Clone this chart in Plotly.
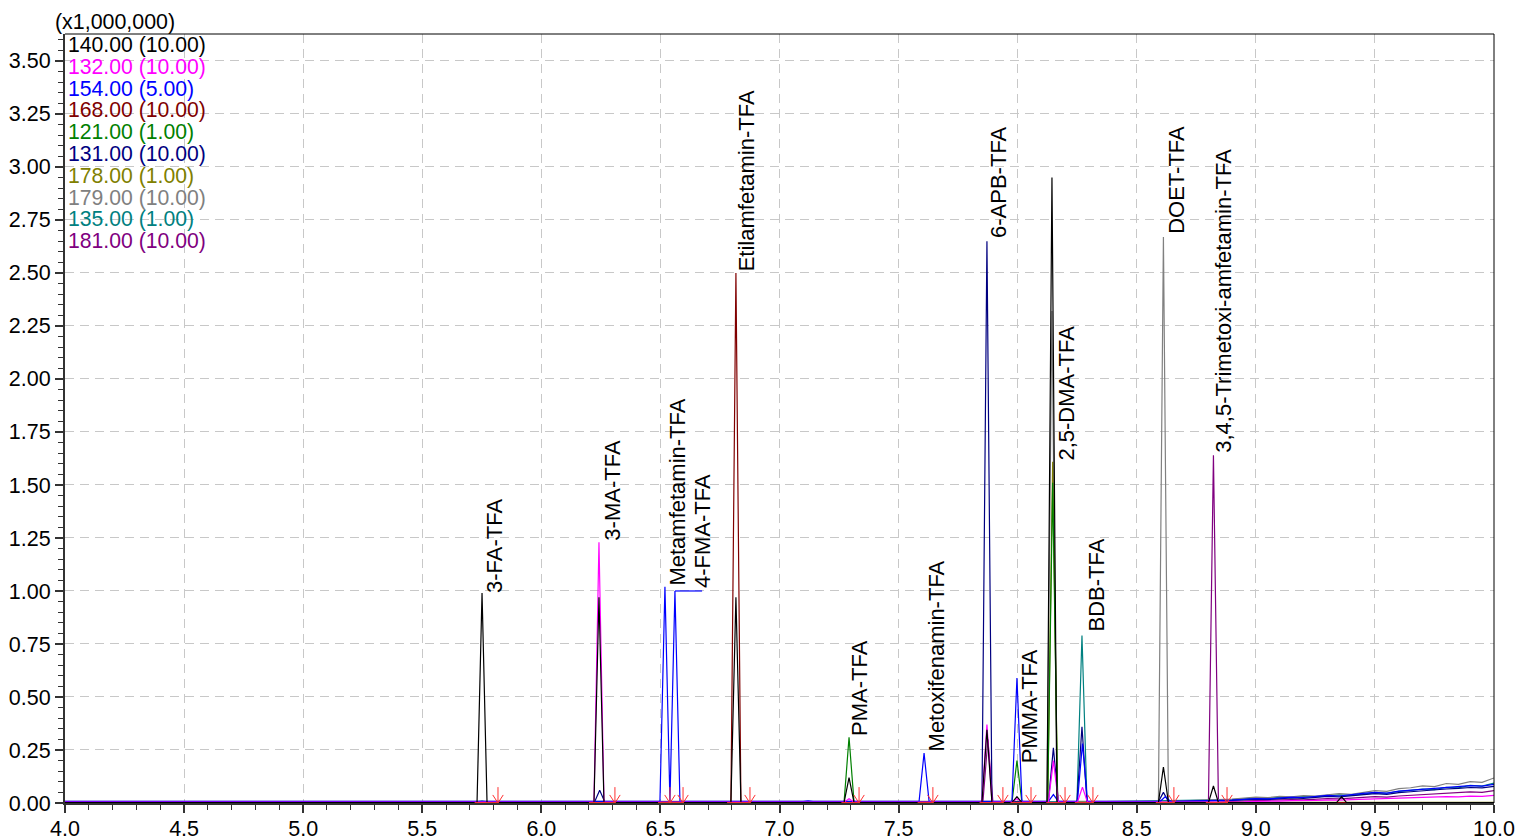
import plotly.graph_objects as go

# ---------------- data (intensity in units of 1,000,000 counts, time in min) ----------------
mz_labels = ["140.00 (10.00)", "132.00 (10.00)", "154.00 (5.00)", "168.00 (10.00)", "121.00 (1.00)",
             "131.00 (10.00)", "178.00 (1.00)", "179.00 (10.00)", "135.00 (1.00)", "181.00 (10.00)"]
mz_colors = ["#000000", "#FF00FF", "#0000FF", "#800000", "#008000",
             "#000080", "#808000", "#808080", "#008080", "#800080"]
base_levels = [0.002, 0.004, 0.008, 0.002, 0.002, 0.006, 0.003, 0.008, 0.006, 0.004]

# peak apex retention times and heights for each channel
rt_140 = [5.751, 6.242, 6.817, 7.292, 7.871, 7.997, 8.144, 8.612, 8.822, 9.360]
ht_140 = [0.99, 0.97, 0.97, 0.12, 0.345, 0.03, 2.95, 0.17, 0.08, 0.03]
rt_132 = [6.242, 7.292, 7.871, 7.997, 8.150, 8.272]
ht_132 = [1.23, 0.02, 0.37, 0.02, 0.20, 0.075]
rt_154 = [5.751, 6.519, 6.561, 7.120, 7.607, 7.997, 8.150, 8.272, 8.620]
ht_154 = [0.01, 1.02, 1.00, 0.01, 0.235, 0.59, 0.04, 0.28, 0.03]
rt_168 = [6.817]
ht_168 = [2.50]
rt_121 = [7.292, 7.997, 8.147]
ht_121 = [0.31, 0.20, 1.51]
rt_131 = [6.245, 7.871, 8.150, 8.270, 8.612]
ht_131 = [0.06, 2.65, 0.26, 0.36, 0.05]
rt_178 = [8.147]
ht_178 = [1.61]
rt_179 = [8.144, 8.612]
ht_179 = [2.32, 2.67]
rt_135 = [5.751, 8.270]
ht_135 = [0.01, 0.79]
rt_181 = [7.875, 8.822]
ht_181 = [0.30, 1.64]

peak_rts = [rt_140, rt_132, rt_154, rt_168, rt_121, rt_131, rt_178, rt_179, rt_135, rt_181]
peak_hts = [ht_140, ht_132, ht_154, ht_168, ht_121, ht_131, ht_178, ht_179, ht_135, ht_181]

# rising baseline at the end of the run
tail_t = [8.90, 8.95, 9.00, 9.05, 9.10, 9.15, 9.20, 9.25, 9.30, 9.35, 9.40, 9.45,
          9.50, 9.55, 9.60, 9.65, 9.70, 9.75, 9.80, 9.85, 9.90, 9.95, 10.00]
tail_132 = [0.005, 0.006, 0.008, 0.007, 0.009, 0.011, 0.010, 0.012, 0.014, 0.013, 0.016, 0.018,
            0.020, 0.019, 0.022, 0.024, 0.026, 0.028, 0.030, 0.029, 0.032, 0.031, 0.036]
tail_154 = [0.014, 0.018, 0.021, 0.019, 0.024, 0.028, 0.026, 0.031, 0.036, 0.033, 0.040, 0.045,
            0.050, 0.047, 0.056, 0.060, 0.066, 0.070, 0.074, 0.078, 0.082, 0.080, 0.088]
tail_131 = [0.012, 0.015, 0.018, 0.016, 0.021, 0.024, 0.022, 0.027, 0.031, 0.029, 0.035, 0.039,
            0.044, 0.041, 0.049, 0.053, 0.058, 0.062, 0.066, 0.069, 0.073, 0.071, 0.078]
tail_179 = [0.018, 0.022, 0.028, 0.025, 0.031, 0.029, 0.035, 0.033, 0.040, 0.044, 0.041, 0.050,
            0.058, 0.055, 0.068, 0.072, 0.081, 0.077, 0.092, 0.088, 0.101, 0.097, 0.118]
tail_135 = [0.016, 0.020, 0.024, 0.022, 0.027, 0.025, 0.030, 0.029, 0.034, 0.038, 0.036, 0.043,
            0.048, 0.046, 0.055, 0.060, 0.066, 0.063, 0.074, 0.071, 0.083, 0.080, 0.094]
tail_181 = [0.008, 0.010, 0.012, 0.011, 0.014, 0.016, 0.015, 0.018, 0.021, 0.019, 0.024, 0.027,
            0.030, 0.028, 0.033, 0.036, 0.039, 0.042, 0.045, 0.048, 0.052, 0.050, 0.058]
tails = [None, tail_132, tail_154, None, None, tail_131, None, tail_179, tail_135, tail_181]

# compound annotations
compound_names = ["3-FA-TFA", "3-MA-TFA", "Metamfetamin-TFA", "4-FMA-TFA", "Etilamfetamin-TFA",
                  "PMA-TFA", "Metoxifenamin-TFA", "6-APB-TFA", "PMMA-TFA", "2,5-DMA-TFA",
                  "BDB-TFA", "DOET-TFA", "3,4,5-Trimetoxi-amfetamin-TFA"]
compound_label_t = [5.801, 6.297, 6.570, 6.679, 6.863, 7.338, 7.657, 7.922, 8.048, 8.207,
                    8.329, 8.669, 8.866]
compound_label_y = [0.981, 1.226, 1.014, 1.005, 2.500, 0.307, 0.236, 2.656, 0.179, 1.608,
                    0.797, 2.675, 1.642]

# integration end markers (red arrows) and integration start times
arrow_t = [5.818, 6.309, 6.540, 6.595, 6.876, 7.334, 7.644, 7.938, 8.056, 8.199, 8.316, 8.656, 8.879]
integ_start_t = [5.72, 6.20, 6.49, 6.54, 6.78, 7.26, 7.58, 7.84, 7.97, 8.12, 8.24, 8.58, 8.79]

# leader from the 4-FMA apex to its label
leader_t = [6.561, 6.675]
leader_y = [1.00, 1.00]

FONT = "Liberation Sans, Arial, sans-serif"
HALF_W = 0.021

fig = go.Figure()

# draw channels (last listed first so black ends on top)
for i in reversed(range(len(mz_labels))):
    b = base_levels[i]
    pts = [(4.0, b), (8.3, b)]
    if tails[i] is not None:
        pts += list(zip(tail_t, tails[i]))
    else:
        pts += [(10.0, b)]
    for t, h in zip(peak_rts[i], peak_hts[i]):
        pts += [(t - HALF_W, b), (t, h), (t + HALF_W, b)]
    pts.sort(key=lambda p: p[0])
    fig.add_trace(go.Scatter(x=[p[0] for p in pts], y=[p[1] for p in pts], mode="lines",
                             line=dict(color=mz_colors[i], width=1.2), showlegend=False,
                             hoverinfo="skip"))

fig.add_trace(go.Scatter(x=leader_t, y=leader_y, mode="lines",
                         line=dict(color=mz_colors[2], width=1.2), showlegend=False))

# red integration baseline segments and arrows
rx, ry = [], []
for s, e in zip(integ_start_t, arrow_t):
    rx += [s, e, None]
    ry += [0.002, 0.002, None]
for t in arrow_t:
    rx += [t, t, None, t - 0.022, t, t + 0.022, None]
    ry += [0.075, 0.0, None, 0.038, 0.0, 0.038, None]
fig.add_trace(go.Scatter(x=rx, y=ry, mode="lines", line=dict(color="#FF3030", width=1),
                         showlegend=False, hoverinfo="skip"))

# compound labels
for name, t, y in zip(compound_names, compound_label_t, compound_label_y):
    fig.add_annotation(x=t, y=y, xref="x", yref="y", text=name, textangle=-90,
                       showarrow=False, xanchor="center", yanchor="bottom",
                       font=dict(family=FONT, size=22, color="black"))

# channel legend (colored text)
plot_top_px, plot_bot_px = 34, 803
for i, (lab, col) in enumerate(zip(mz_labels, mz_colors)):
    ypx = 45 + i * 21.8
    fig.add_annotation(x=0.0, y=(plot_bot_px - ypx) / (plot_bot_px - plot_top_px),
                       xref="paper", yref="paper", text=lab, showarrow=False,
                       xanchor="left", yanchor="middle", xshift=2, borderpad=0,
                       font=dict(family=FONT, size=21.2, color=col))

fig.add_annotation(x=0.0, y=1.0, xref="paper", yref="paper", text="(x1,000,000)",
                   showarrow=False, xanchor="left", yanchor="bottom", xshift=-12, yshift=-2,
                   font=dict(family=FONT, size=21.4, color="black"))

# top / right frame
fig.add_shape(type="line", xref="paper", yref="paper", x0=0, x1=1, y0=1, y1=1,
              line=dict(color="black", width=1))
fig.add_shape(type="line", xref="paper", yref="paper", x0=1, x1=1, y0=0, y1=1,
              line=dict(color="black", width=1))

fig.update_layout(
    width=1517, height=840,
    margin=dict(l=65, r=23, t=34, b=37, autoexpand=False),
    plot_bgcolor="white", paper_bgcolor="white",
    font=dict(family=FONT, size=21, color="black"),
    showlegend=False,
)
fig.update_xaxes(range=[4.0, 10.0], dtick=0.5, tick0=4.0, tickformat=".1f", automargin=False,
                 showgrid=True, gridcolor="#C8C8C8", griddash="9px,6px", gridwidth=1,
                 zeroline=False, showline=True, linecolor="#333333", linewidth=2,
                 ticks="outside", ticklen=8, tickwidth=1.5, tickcolor="#333333",
                 ticklabelstandoff=-3,
                 minor=dict(dtick=0.1, tick0=4.0, ticks="outside", ticklen=5, tickwidth=1,
                            tickcolor="#333333", showgrid=False),
                 tickfont=dict(family=FONT, size=21.5))
fig.update_yaxes(range=[0.0, 3.627], dtick=0.25, tick0=0.0, tickformat=".2f", automargin=False,
                 showgrid=True, gridcolor="#C8C8C8", griddash="9px,6px", gridwidth=1,
                 zeroline=False, showline=True, linecolor="#333333", linewidth=2,
                 ticks="outside", ticklen=8, tickwidth=1.5, tickcolor="#333333",
                 minor=dict(dtick=0.05, tick0=0.0, ticks="outside", ticklen=5, tickwidth=1,
                            tickcolor="#333333", showgrid=False),
                 tickfont=dict(family=FONT, size=21.5))

fig.write_html("out.html")
